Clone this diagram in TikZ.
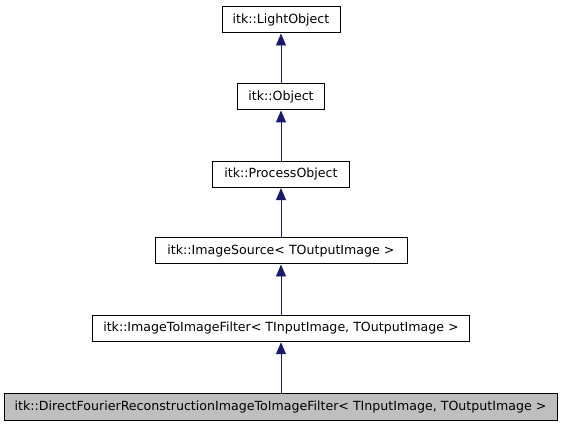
\documentclass[tikz,border=0pt]{standalone}
\usepackage{fontspec}
\setmainfont{DejaVu Sans}
\usetikzlibrary{arrows.meta}
\definecolor{edgeblue}{HTML}{191970}
\definecolor{boxgray}{HTML}{BFBFBF}
\tikzset{
  cls/.style={draw=black, line width=1pt, inner sep=0pt, font=\fontsize{12.6}{14}\selectfont, anchor=center},
  inh/.style={draw=edgeblue, line width=0.9pt, -{Triangle[length=12pt,width=10pt,fill=edgeblue]}},
}
\begin{document}
\begin{tikzpicture}[x=1pt,y=-1pt]
\useasboundingbox (0,0) rectangle (563,427);
\node[cls, minimum width=118, minimum height=26] (lo) at (281,20) {itk::LightObject};
\node[cls, minimum width=87, minimum height=26.5] (obj) at (281,96.7) {itk::Object};
\node[cls, minimum width=137, minimum height=26.5] (po) at (281,174.3) {itk::ProcessObject};
\node[cls, minimum width=252, minimum height=26] (is) at (281,251) {itk::ImageSource\textless{} TOutputImage \textgreater{}};
\node[cls, minimum width=377, minimum height=26.5] (itf) at (281,328.5) {itk::ImageToImageFilter\textless{} TInputImage, TOutputImage \textgreater{}};
\node[cls, fill=boxgray, minimum width=553, minimum height=27] (d) at (280.5,407.5) {itk::DirectFourierReconstructionImageToImageFilter\textless{} TInputImage, TOutputImage \textgreater{}};
\draw[inh] (obj.north) -- (lo.south);
\draw[inh] (po.north) -- (obj.south);
\draw[inh] (is.north) -- (po.south);
\draw[inh] (itf.north) -- (is.south);
\draw[inh] (d.north -| itf.south) -- (itf.south);
\end{tikzpicture}
\end{document}
